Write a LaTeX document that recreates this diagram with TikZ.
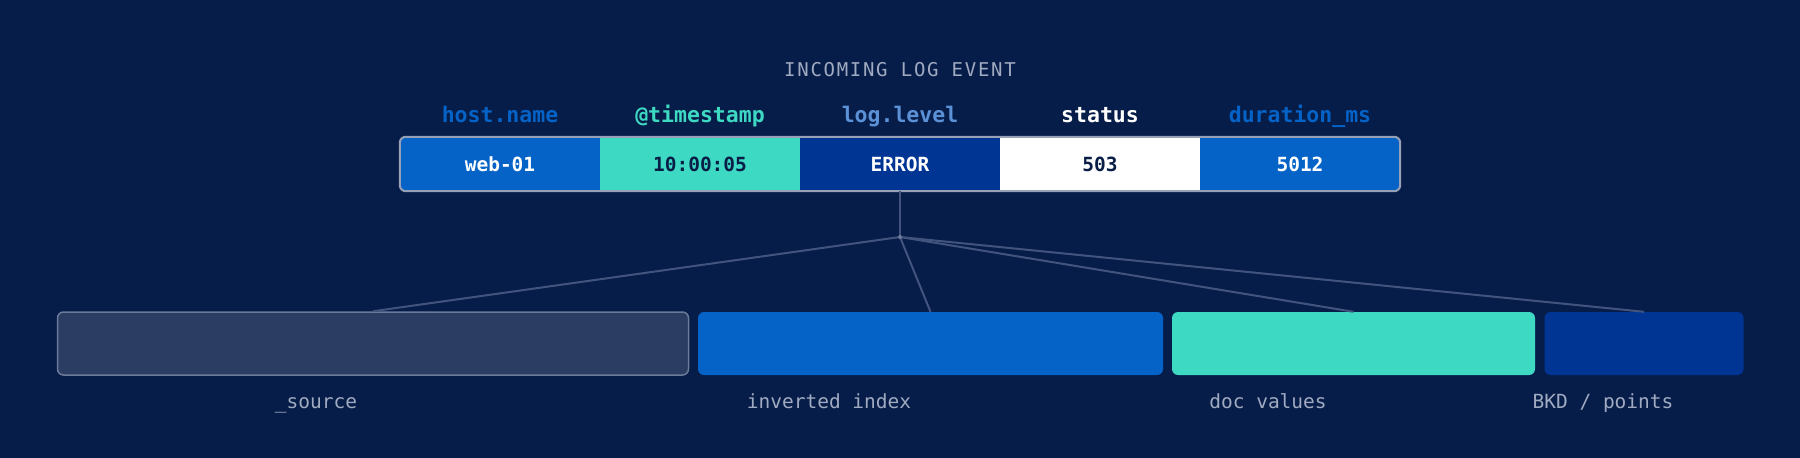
\documentclass[tikz,border=0pt]{standalone}
\usepackage{fontspec}
\setmonofont{DejaVu Sans Mono}
\usepackage{tikz}
\definecolor{bgnavy}{RGB}{6,29,73}
\definecolor{elblue}{RGB}{5,98,199}
\definecolor{elteal}{RGB}{62,217,195}
\definecolor{eldark}{RGB}{0,53,148}
\definecolor{inkdark}{RGB}{8,30,70}
\definecolor{greytxt}{RGB}{160,170,192}
\definecolor{lvlblue}{RGB}{92,145,214}
\definecolor{wiregrey}{RGB}{66,84,126}
\definecolor{srcfill}{RGB}{43,61,99}
\definecolor{srcline}{RGB}{108,122,153}
\definecolor{rowline}{RGB}{150,160,182}

\begin{document}
\begin{tikzpicture}[x=1pt,y=-1pt,
  cell/.style={minimum width=200pt,minimum height=54pt,inner sep=0pt,
    font=\ttfamily\bfseries\fontsize{19.5}{22}\selectfont},
  field/.style={anchor=base,font=\ttfamily\bfseries\fontsize{21.5}{24}\selectfont},
  store/.style={rounded corners=6pt,minimum height=63pt,inner sep=0pt},
  caption/.style={anchor=base,text=greytxt,font=\ttfamily\fontsize{19.5}{22}\selectfont},
  wire/.style={draw=wiregrey,line width=2pt}]
\fill [bgnavy] (0,0) rectangle (1800,458);
\useasboundingbox (0,0) rectangle (1800,458);
% title and field names
\node [anchor=base,text=greytxt,font=\ttfamily\addfontfeature{LetterSpace=9}\fontsize{19}{22}\selectfont] (title) at (900,76) {INCOMING LOG EVENT};
\node [field,text=elblue] (fhost) at (500,122.5) {host.name};
\node [field,text=elteal] (ftime) at (700,122.5) {@timestamp};
\node [field,text=lvlblue] (flevel) at (900,122.5) {log.level};
\node [field,text=white] (fstatus) at (1100,122.5) {status};
\node [field,text=elblue] (fdur) at (1300,122.5) {duration\_ms};
% the event row
\begin{scope}
\clip [rounded corners=6pt] (400,137) rectangle (1400,191);
\node [cell,fill=elblue,text=white] (host) at (500,164) {web-01};
\node [cell,fill=elteal,text=inkdark] (time) at (700,164) {10:00:05};
\node [cell,fill=eldark,text=white] (level) at (900,164) {ERROR};
\node [cell,fill=white,text=inkdark] (status) at (1100,164) {503};
\node [cell,fill=elblue,text=white] (dur) at (1300,164) {5012};
\end{scope}
\draw [rowline,line width=2pt,rounded corners=6pt] (host.north west) rectangle (dur.south east);
% storage structures
\node [store,fill=srcfill,draw=srcline,line width=1.5pt,minimum width=631pt] (src) at (373,343.5) {};
\node [store,fill=elblue,minimum width=465pt] (inv) at (930.5,343.5) {};
\node [store,fill=elteal,minimum width=363pt] (docv) at (1353.5,343.5) {};
\node [store,fill=eldark,minimum width=199pt] (bkd) at (1644,343.5) {};
\node [caption] (srccap) at (316,408.3) {\_source};
\node [caption] (invcap) at (829,408.3) {inverted index};
\node [caption] (docvcap) at (1268,408.3) {doc values};
\node [caption] (bkdcap) at (1603,408.3) {BKD / points};
% fan out
\coordinate (hub) at (900,237);
\draw [wire] (level.south) -- (hub);
\foreach \s in {src,inv,docv,bkd}
  \draw [wire] (hub) -- (\s.north);
\fill [srcline] (hub) circle (2pt);
\end{tikzpicture}
\end{document}
